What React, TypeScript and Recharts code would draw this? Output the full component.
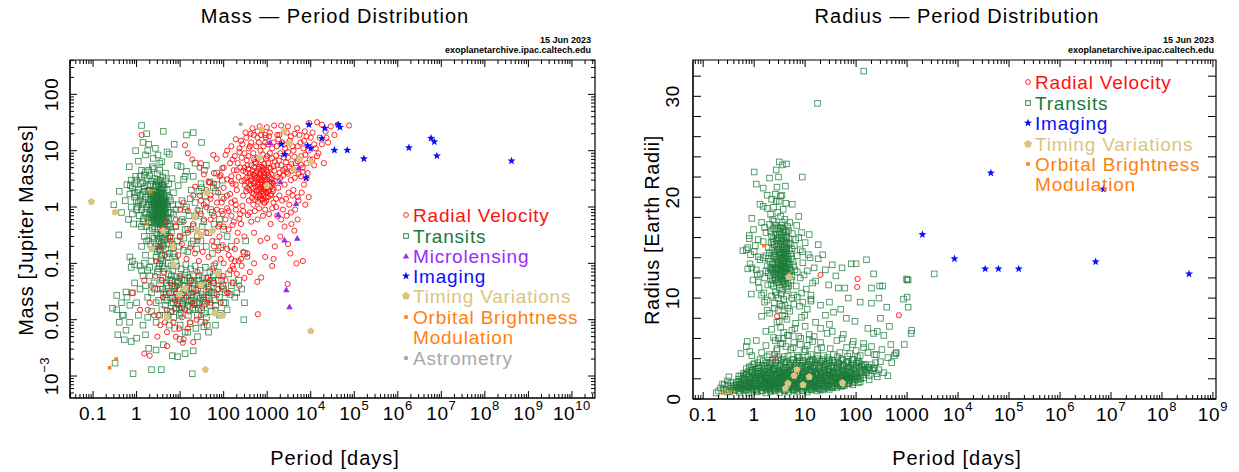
import React from 'react';
import { ScatterChart, Scatter, XAxis, YAxis, ReferenceArea } from 'recharts';

type Pt = [number, number];

// ===================== Mass – Period panel: [period (days), mass (Jupiter masses)] =====================
const massRadialVelocity: Pt[] = [
  [317,21],[460,25],[670,27],[980,26],[1440,28],[2100,28],[3000,27],[4900,25],[9200,31],[14000,32],[18000,29],[29000,27],[42000,29],[76000,28],[7300,22],[22000,22],[1700,19],[900,19],[600,22],[1.3,19],[13,12.5],[15,9],[19,7],[28,5],[35,3.8],
  [250,15],[400,12],[600,17],[900,14],[1300,11],[1800,16],[2500,13],[3500,18],[5000,12],[7000,15],[9000,10],[12000,13],[16000,17],[300,9],[500,7],[700,10],[1000,8],[1500,6.5],[2000,9],[3000,7.5],[4000,10],[6000,8],[8000,6],[11000,7],[15000,9],[20000,6],[350,5.5],[550,6],[800,5],[1200,4.8],[1700,5.5],[2300,4.5],[3200,5.2],[4500,6],[6500,5],[180,8],[140,6],[120,10],[200,4.5],[100,5],[80,3.5],[60,4],[45,2.8],[30,6],[58,8.4],[69,7.2],[110,8.4],[93,4.9],[48,2.7],[85,3.7],[147,2.9],[230,11],[420,20],[750,23],[1100,18],[2800,21],[5500,19],[10000,17],[25000,14],[35000,19],
  [300,3],[350,2.2],[400,3.5],[450,1.8],[500,2.6],[550,4],[600,1.5],[650,3.2],[700,2.1],[750,2.8],[800,1.7],[850,3.7],[900,2.4],[950,1.3],[1000,3],[1100,2],[1200,1.6],[1300,2.7],[1400,1.2],[280,1.6],[320,4.2],[380,1.3],[420,2.9],[480,1.1],[520,3.6],[580,2.0],[620,2.5],[680,1.4],[720,3.9],[780,2.3],[820,1.9],[880,1.2],[940,2.1],[1050,1.5],[1150,3.4],[1250,2.4],[1350,1.9],[1500,2.9],[1600,1.4],[1800,2.2],[2000,3.3],[2200,1.3],[2500,2.5],[2800,4.2],[3100,1.8],[3500,3],[4000,2],[4500,4.5],[5000,1.5],[6000,3.5],[7000,2.5],[8500,4],[200,2],[220,3.4],[180,1.3],[160,2.6],[140,1.7],[120,3.1],[100,2.2],[90,1.2],[75,1.8],[60,2.6],[50,1.4],[40,2],[35,1.1],[28,1.6],[22,2.3],
  [310,2.4],[330,1.9],[360,2.8],[390,2.0],[410,2.5],[440,3.1],[470,2.2],[490,1.7],[510,2.9],[540,2.3],[560,1.9],[590,3.3],[610,2.7],[640,2.0],[660,1.6],[690,2.6],[710,3.0],[740,1.9],[760,2.5],[790,3.4],[810,2.1],[840,1.6],[870,2.8],[890,2.2],[920,3.0],[960,1.8],[980,2.6],[1020,2.2],[1080,1.9],[1120,2.8],[1180,2.3],[1230,1.7],[1280,3.1],[1330,2.1],[1380,2.6],[450,1.45],[530,1.35],[620,1.25],[700,1.55],[770,1.35],[850,1.2],[930,1.5],[400,4.0],[480,3.8],[570,4.3],[660,3.9],[760,4.4],[860,4.0],[950,4.6],[1050,3.7],
  [400,0.8],[600,0.6],[900,0.9],[1200,0.5],[1700,0.7],[2500,0.45],[3500,0.8],[5000,0.6],[250,0.5],[150,0.7],[100,0.45],[70,0.9],[50,0.6],[30,0.75],[20,0.5],[15,0.85],[300,0.3],[500,0.35],[700,0.25],[1000,0.28],[1500,0.2],[2000,0.3],[3000,0.22],[200,0.25],[120,0.18],[80,0.3],[60,0.2],[40,0.35],[25,0.25],[18,0.4],[12,0.55],[10,0.3],[8,0.45],[6,0.25],[1400,0.12],[900,0.13],[500,0.1],[350,0.15],[250,0.12],[160,0.09],[4700,0.1],[6600,0.11],[1300,0.09],[3400,0.15],[590,0.047],[730,0.056],[610,0.0125],[2950,0.043],
  [20,1.6],[25,0.9],[30,1.3],[35,0.6],[40,1.0],[50,1.6],[60,0.7],[70,1.2],[80,0.5],[90,0.85],[100,1.4],[110,0.6],[120,0.95],[130,0.4],[150,1.2],[170,0.55],[190,0.9],[210,0.35],[240,0.75],[270,1.05],[10,0.9],[8,0.6],[12,1.2],[15,0.35],[6,0.3],[5,0.55],[4,0.4],[7,0.18],[9,0.14],[11,0.22],[14,0.12],[17,0.19],[22,0.15],[27,0.11],[33,0.16],[45,0.13],[55,0.25],[65,0.1],[75,0.17],[85,0.12],[95,0.21],[130,0.14],[180,0.18],[220,0.11],[280,0.16],[3.5,0.2],[4.5,0.14],[2.8,0.11],
  [0.8,0.03],[1.2,0.015],[1.5,0.05],[2,0.02],[2.5,0.012],[3,0.035],[3.5,0.008],[4,0.025],[5,0.015],[6,0.045],[7,0.009],[8,0.03],[9,0.018],[10,0.06],[11,0.011],[12,0.04],[14,0.025],[16,0.014],[18,0.05],[20,0.03],[22,0.018],[25,0.07],[28,0.04],[30,0.012],[35,0.025],[40,0.055],[45,0.035],[50,0.02],[55,0.08],[60,0.045],[70,0.028],[80,0.06],[90,0.038],[100,0.1],[110,0.05],[120,0.03],[140,0.075],[160,0.045],[180,0.11],[200,0.065],[230,0.04],[260,0.09],[300,0.055],[350,0.13],[400,0.07],[5,0.006],[8,0.005],[12,0.0045],[15,0.007],[20,0.004],[3,0.005],[2.0,0.0023],[5,0.0034],[11.5,0.0039],[1.5,0.0025],
  [150,12],[190,16],[230,9.5],[270,13],[330,17],[380,11],[430,14],[490,19],[560,12],[640,14],[720,19],[820,12],[930,17],[1050,13],[1150,21],[1400,14],[1650,12],[1900,19],[2200,14],[2600,11],[3300,15],[3800,12],[4300,20],[5800,14],[6800,11],[8000,18],[11000,21],[13000,11],[18000,13],[23000,17],
  [160,7],[210,6],[260,7.5],[300,5],[340,6.8],[370,8],[430,5.5],[480,9],[520,6.3],[600,7.5],[660,5.2],[730,6.8],[790,8.6],[860,5.8],[950,7.2],[1050,6],[1150,9],[1300,7.3],[1400,5.3],[1600,8.2],[1850,6.7],[2100,5.5],[2400,7.6],[2700,6.2],[3000,9.5],[3600,5.8],[4200,7.8],[5000,6.5],[6000,5.6],[7500,8.5],[9500,7],[12000,5.5],[14000,8],
  [150,3.5],[170,4.5],[190,2.5],[240,5],[260,2.9],[280,4.4],[340,3.3],[370,4.7],[460,4.4],[500,5.1],[540,3.3],[630,4.8],[680,3.5],[740,5.2],[830,4.6],[900,3.4],[1000,4.2],[1100,5],[1250,3.8],[1450,4.4],[1700,3.4],[1950,4.1],[2300,3.6],[2600,4.8],[3000,3.9],[3700,4.4],[4300,3.3],[5300,3.9],[6500,4.2],[8000,3.2],
  [1600,1.0],[1900,1.6],[2300,0.9],[2700,1.4],[3200,1.1],[3800,1.6],[4400,0.9],[5200,1.3],[6200,1.8],[7500,1.1],[9000,1.5],[2100,0.6],[2800,0.7],[3600,0.5],[4200,0.38],[1100,0.75],[1300,0.95],[800,0.7],[650,0.95],[520,0.85],[430,0.55],[360,0.72],[280,0.85],[230,0.62],[190,1.1],[160,0.48],[130,0.85],[120,1.6],[95,0.75],[75,0.45],
  [3.8,0.05],[4.5,0.009],[5.5,0.03],[6.5,0.014],[7.5,0.022],[8.5,0.04],[9.5,0.007],[10.5,0.025],[13,0.015],[15,0.04],[17,0.009],[19,0.02],[24,0.01],[26,0.035],[32,0.017],[38,0.009],[42,0.02],[48,0.05],[65,0.015],[75,0.035],[85,0.02],[95,0.06],[130,0.03],[150,0.12],[170,0.08],[2.2,0.04],[2.7,0.06],[1.8,0.015],[3.2,0.012],[4.2,0.07],
];

const massTransits: Pt[] = [
  [1.3,28],[1.7,20],[4.1,22],[14,19],[20,21],[1.4,14],[1.9,13],[31,14],[7.3,13],[1.8,10],[5,9.5],[5.6,8.7],[0.95,10],[0.68,5.2],[8.7,5.5],[10.5,5.2],[14,4.3],[22,6],[40,5.5],[36,4.5],[2.3,5.2],[3.1,8.4],[1.6,8.4],[2.4,7.3],[3.8,6.4],[1.3,4.5],[1.9,4.5],[1.5,3.7],[13,3.5],[20,3.5],[69,4],[48,2.8],[93,3],[31,2.2],[58,2.2],[2.7,11],[3.4,6],[4.6,4],[1.1,6.5],[6.5,3.2],[0.75,3],
  [0.8,2.2],[0.9,1.5],[1.0,3.0],[1.05,1.0],[1.1,2.0],[1.15,0.7],[1.2,1.3],[1.25,2.6],[1.3,0.9],[1.35,1.7],[1.4,0.55],[1.45,1.2],[1.5,2.3],[1.55,0.8],[1.6,1.5],[1.65,0.45],[1.7,1.0],[1.75,3.2],[1.8,0.65],[1.85,1.9],[1.9,1.1],[1.95,0.38],[2.0,0.75],[2.05,1.4],[2.1,2.5],[2.15,0.55],[2.2,1.0],[2.25,1.7],[2.3,0.3],[2.35,0.85],[2.4,1.25],[2.45,0.6],[2.5,2.0],[2.55,1.05],[2.6,0.45],[2.65,1.5],[2.7,0.7],[2.75,1.15],[2.8,0.9],[2.85,2.8],[2.9,0.55],[2.95,1.3],[3.0,0.8],[3.05,1.8],[3.1,0.4],[3.15,1.0],[3.2,0.65],[3.25,1.4],[3.3,0.25],[3.35,0.9],[3.4,2.2],[3.45,0.5],[3.5,1.1],[3.55,0.75],[3.6,1.6],[3.65,0.35],[3.7,1.0],[3.75,0.6],[3.8,1.3],[3.85,0.85],[3.9,0.2],[3.95,2.5],[4.0,0.45],[4.1,1.2],[4.2,0.7],[4.3,0.3],[4.4,1.5],[4.5,0.55],[4.6,0.95],[4.7,0.18],[4.8,0.4],[4.9,1.1],[5.0,0.65],[5.2,0.28],[5.4,0.8],[5.6,0.15],[5.8,0.5],[6.0,1.3],[6.3,0.35],[6.6,0.22],[7.0,0.75],[7.5,0.13],[8.0,0.45],[8.5,0.25],[9.0,1.1],[10,0.3],[11,0.6],[12,0.17],[13,0.9],[15,0.4],[17,1.4],[20,0.25],[23,0.7],[27,1.9],[32,0.45],[40,1.2],[55,0.8],[70,2.5],[90,1.5],
  [2.5,1.6],[2.6,0.95],[2.7,1.9],[2.8,1.4],[2.9,0.75],[3.0,1.2],[3.1,1.6],[3.2,1.05],[3.3,1.8],[3.4,0.7],[3.5,1.45],[3.6,0.55],[3.7,1.25],[3.8,0.95],[3.9,1.7],[4.0,1.05],[4.1,0.8],[4.2,1.35],[4.3,0.6],[4.4,0.9],[2.55,0.7],[2.75,0.5],[3.05,0.6],[3.35,1.3],[3.65,0.85],[3.95,0.65],[4.25,1.0],[2.35,1.1],[2.2,0.65],[2.45,1.9],[3.15,2.4],[3.75,2.1],[2.95,1.05],[3.45,0.95],[3.55,0.42],[3.85,0.48],[3.25,0.52],[2.65,0.58],[4.5,0.75],[4.7,1.25],[4.15,0.38],
  [2.05,0.9],[2.25,1.35],[2.45,0.78],[2.65,1.22],[2.85,0.68],[3.05,1.45],[3.25,0.88],[3.45,1.2],[3.65,1.05],[3.85,1.4],[4.05,0.78],[4.25,1.25],[2.15,1.7],[2.35,0.52],[2.55,1.3],[2.75,0.82],[2.95,1.6],[3.15,0.7],[3.35,1.05],[3.55,1.8],[3.75,0.8],[3.95,1.25],[4.35,0.9],[2.5,1.1],[2.9,1.15],[3.3,1.12],[3.7,1.5],[4.1,1.0],[3.1,0.55],[2.6,0.65],
  [1.2,3.5],[1.4,2.7],[1.6,4.2],[1.8,2.4],[2.0,3.6],[2.2,2.9],[2.4,4.8],[2.6,3.2],[2.8,2.3],[3.0,3.9],[3.2,2.6],[3.4,4.5],[3.6,3.0],[3.8,2.5],[4.0,3.4],[4.3,2.2],[4.6,2.9],[5.0,2.0],[5.5,2.6],[1.3,0.45],[1.5,0.3],[1.7,0.25],[1.9,0.55],[2.1,0.22],[2.3,0.42],[2.5,0.28],[2.7,0.2],[2.9,0.33],[3.1,0.27],[3.3,0.18],[3.5,0.3],[3.7,0.23],[3.9,0.28],[4.1,0.21],[4.4,0.26],[4.7,0.33],[5.1,0.38],[5.5,0.6],[6,0.45],[1.25,1.6],[1.35,1.1],[1.55,1.9],[1.65,0.75],[1.85,1.35],[1.95,2.0],[2.15,1.25],[2.3,0.72],[2.45,1.45],[2.6,1.15],[2.7,2.4],[2.8,0.62],[2.9,1.7],[3.0,0.95],[3.1,1.35],[3.2,2.9],[3.3,0.82],[3.4,1.55],[3.5,0.58],[3.6,2.0],[3.7,0.72],[3.8,1.75],[3.9,1.15],[4.0,2.2],[4.1,0.52],[4.2,1.7],[4.4,1.2],[4.6,0.65],[4.8,1.6],[5.2,1.0],[5.6,1.5],[6.2,0.8],[6.8,1.1],[1.1,1.2],[1.0,0.9],[0.9,2.6],[1.05,1.8],[1.15,0.5],[1.45,0.62],[5.3,0.45],[5.8,0.3],
  [3.2,0.2],[3.5,0.17],[3.8,0.14],[3.0,0.16],[3.6,0.12],[3.4,0.1],[4.0,0.11],[2.8,0.13],[3.9,0.09],[3.1,0.08],
  [0.3,1.1],[0.4,1.9],[0.45,0.8],[0.55,1.3],[0.6,2.5],[0.65,0.6],[0.7,1.7],[0.75,1.0],[0.85,0.5],[0.95,3.5],[0.39,0.32],[0.72,2.4],[0.88,1.8],[0.98,1.3],[0.8,0.75],
  [7,1.8],[8,0.9],[9,2.4],[10,0.55],[11,1.3],[12,3.1],[13,0.4],[14,1.0],[16,0.7],[18,2.0],[20,0.45],[22,1.2],[25,0.3],[28,0.85],[30,2.6],[35,0.55],[38,1.6],[45,0.35],[50,0.9],[60,0.5],[65,1.9],[80,0.6],[100,0.4],[9.5,0.2],[12,0.28],[15,0.16],[18,0.22],[24,0.18],[30,0.25],[40,0.2],[55,0.15],[70,0.24],[85,0.19],[120,0.3],[150,0.2],[300,0.15],[320,0.25],
  [1.3,0.2],[1.6,0.14],[1.9,0.25],[2.2,0.11],[2.6,0.18],[5,0.13],[5.5,0.22],[6.2,0.09],[7,0.15],[8,0.11],[1.2,0.09],[1.5,0.1],[2.0,0.085],[0.7,0.13],[0.8,0.11],[0.9,0.095],[0.75,0.085],[1.3,0.075],[1.8,0.075],
  [2,0.06],[2.5,0.045],[3,0.07],[3.5,0.035],[4,0.055],[4.5,0.025],[5,0.04],[5.5,0.065],[6,0.03],[6.5,0.05],[7,0.02],[7.5,0.038],[8,0.058],[8.5,0.028],[9,0.045],[9.5,0.016],[10,0.033],[11,0.052],[12,0.024],[13,0.04],[14,0.07],[15,0.018],[16,0.03],[17,0.048],[18,0.022],[19,0.035],[20,0.06],[22,0.015],[24,0.027],[26,0.042],[28,0.02],[30,0.032],[33,0.055],[36,0.013],[40,0.025],[44,0.038],[48,0.018],[52,0.03],[58,0.045],[64,0.022],[70,0.035],[3.2,0.022],[3.8,0.015],[4.2,0.03],[5.2,0.012],[6.2,0.02],[7.2,0.011],[8.2,0.016],[9.2,0.025],[10.5,0.013],[11.5,0.019],[2.2,0.03],[2.8,0.02],[1.6,0.04],[1.8,0.025],[1.4,0.06],[1.2,0.035],[1.0,0.02],[0.9,0.045],[0.8,0.03],[0.7,0.018],[0.6,0.025],[0.5,0.012],[0.45,0.02],[0.4,0.009],[0.35,0.015],
  [3.3,0.09],[4.3,0.08],[5.3,0.1],[6.8,0.075],[8.3,0.09],[10.5,0.08],[13.5,0.095],[17.5,0.08],[22,0.09],[29,0.075],[38,0.085],[48,0.07],[2.6,0.035],[3.6,0.05],[4.8,0.045],[6.3,0.06],[7.8,0.04],[9.8,0.055],[12.5,0.05],[16,0.055],[21,0.045],[27,0.05],[35,0.045],[45,0.055],[58,0.06],[75,0.05],[95,0.04],[3.4,0.012],[4.6,0.018],[6,0.014],[7.6,0.025],[9.6,0.012],[12.5,0.016],[15.5,0.012],[19.5,0.016],[25,0.012],[31,0.015],[40,0.011],[52,0.014],[66,0.018],[85,0.013],[110,0.02],[140,0.028],[170,0.045],[200,0.03],[5.6,0.008],[7.5,0.007],[10,0.008],[13,0.006],[17,0.0085],[23,0.007],[30,0.009],[42,0.008],[2.8,0.009],[2.2,0.014],[1.8,0.011],[1.4,0.008],[1.1,0.012],
  [5.8,0.05],[7.2,0.035],[8.8,0.048],[10.8,0.028],[12.8,0.062],[15.8,0.036],[18.8,0.05],[23,0.033],[27,0.06],[33,0.028],[39,0.044],[47,0.032],[55,0.05],[4.8,0.028],[6.7,0.024],[8.7,0.019],[11.8,0.03],[14.5,0.022],[18.5,0.028],[24,0.02],[29,0.024],[36,0.019],[44,0.027],[6.5,0.04],[10,0.022],[13.8,0.033],[20,0.025],[32,0.042],[5,0.022],[4,0.035],[7.8,0.016],[11,0.017],[16.5,0.021],[21,0.019],[26,0.016],[34,0.022],[46,0.024],[60,0.03],[80,0.025],[100,0.035],
  [0.28,0.016],[0.35,0.027],[0.57,0.031],[0.47,0.012],[0.69,0.009],[0.57,0.0065],[0.37,0.0054],[0.52,0.0044],[0.75,0.0041],[1.0,0.0047],[1.6,0.0054],[1.9,0.0031],[2.8,0.0029],[4.1,0.0036],[6.6,0.0023],[8.7,0.0022],[13,0.0025],[20,0.0028],[0.83,0.0011],[2.2,0.0013],[3.7,0.0013],[19,0.0011],[0.32,0.0017],
  [60,0.09],[75,0.07],[90,0.05],[110,0.03],[130,0.065],[150,0.04],[180,0.025],[220,0.05],[260,0.035],[300,0.02],[290,0.01],[80,0.012],[100,0.02],[120,0.015],[65,0.008],[45,0.006],[35,0.0075],[25,0.005],[15,0.006],[10,0.0045],
];

const massMicrolensing: Pt[] = [[1170,14],[2000,2.8],[1800,0.74],[4600,1.15],[5400,5.0],[2500,0.26],[4900,0.28],[2750,0.034],[3250,0.017]];

const massImaging: Pt[] = [
  [9100,29],[21000,25],[42700,29],[47000,26],[18000,16.5],[8500,12.3],[10000,11],[35000,10.2],[69000,10.2],[2100,13],[2500,8.6],[7800,3.3],[166000,7.2],[1.8e6,11.3],[5.8e6,16.6],[6.9e6,14.4],[7.9e6,8.1],[4.1e8,6.6],
];

const massTimingVariations: Pt[] = [
  [0.091,1.24],[0.32,0.81],[4.1,0.38],[22,0.66],[24.5,0.38],[30,0.32],[56,0.38],[6.9,0.2],[2.2,0.18],[7.2,0.093],[74,0.066],[30,0.041],[13,0.036],[9.6,0.028],[5.0,0.011],[63,0.013],[95,0.012],[38,0.0013],[10000,0.0063],[2450,22],[680,7.6],[980,2.4],[5600,7.1],[4100,4.6],[41,1.8],[740,24],[3300,13.5],[10000,6.2],
];

const massOrbitalBrightness: Pt[] = [[0.24,0.0014],[0.34,0.002],[1.7,0.5],[2.1,1.9]];

const massAstrometry: Pt[] = [[245,29.5]];

// ===================== Radius – Period panel: [period (days), radius (Earth radii)] =====================
const radiusTransits: Pt[] = [
  [141,32.5],[17.5,29.3],[3400,12.4],[1000,11.8],[1050,11.8],[980,11.9],[1050,9.1],[850,9.9],[1000,10.1],[1230,6.8],[1200,6.5],[880,5.4],[600,4.5],
  [3.1,23.5],[3.6,23.2],[4.3,23.3],[2.7,22.7],[1.0,22.5],[2.0,21.9],[8.8,22],[1.1,21.3],[1.5,20.9],[4.1,21.1],[1.8,20.2],[3.3,20.1],[2.7,19.6],[1.3,19.3],[5.6,19.3],[7.5,18.1],[0.97,16.8],[0.8,15.9],[0.75,15],[0.85,14.3],[0.83,13.4],[1.15,12.3],[0.88,10.4],[1.4,10.3],[1.6,9.6],[1.8,8.8],[3.1,7.7],[1.7,6.7],[0.73,5.7],[0.82,4.7],
  [8.8,14.6],[11.5,14.3],[18,13.9],[22,14.3],[34,13.3],[53,13],[80,13.4],[100,13.4],[220,12.4],[290,11.2],[200,11],[120,9.6],[200,9.5],[280,10],[400,9.1],[45,11],[29,11.3],[16,11.7],[13,10.3],[20,9.3],[36,8.6],[64,8],[95,7.7],[170,7],[260,6.7],[350,6.3],[610,4.6],[480,5.4],[9.8,8.3],[6.3,7],[34,6.7],[53,6],[85,5.4],[140,5.1],[230,4.4],[14,5.7],[21,5.1],[3.7,6],[2.8,5],[2.5,4.4],[330,11.2],
  [2.0,14.5],[2.1,12.2],[2.2,16.1],[2.3,13.4],[2.4,11.2],[2.5,15.3],[2.6,13.0],[2.7,17.2],[2.8,12.5],[2.9,14.8],[3.0,11.6],[3.1,16.3],[3.2,13.7],[3.3,12.1],[3.4,15.6],[3.5,13.2],[3.6,10.8],[3.7,14.3],[3.8,12.7],[3.9,16.8],[4.0,13.5],[4.1,11.4],[4.2,15.0],[4.3,12.9],[4.4,14.1],[4.5,10.9],[4.7,13.8],[4.9,12.3],[5.1,15.4],[5.3,11.8],[2.05,13.6],[2.15,15.5],[2.25,11.8],[2.35,14.2],[2.45,17.6],[2.55,12.9],[2.65,14.6],[2.75,11.5],[2.85,16.0],[2.95,13.3],[3.05,14.9],[3.15,12.4],[3.25,17.0],[3.35,13.9],[3.45,11.9],[3.55,15.1],[3.65,12.6],[3.75,16.5],[3.85,14.0],[3.95,12.0],[4.05,15.7],[4.15,13.1],[4.25,11.1],[4.35,14.7],[4.6,12.5],[4.8,15.9],[5.0,13.0],[5.2,14.4],[5.5,12.1],[5.8,13.6],[1.5,14.0],[1.6,12.0],[1.7,16.5],[1.8,13.2],[1.9,15.0],[1.4,17.5],[1.3,13.8],[1.2,15.8],[1.1,12.8],[1.0,14.6],[0.9,13.0],[0.8,16.2],[0.7,14.8],[1.25,11.0],[1.55,10.5],[1.85,11.3],[2.2,10.2],[2.6,10.6],[3.0,10.0],[3.4,10.4],[3.8,9.9],[4.3,10.2],[2.9,18.5],[3.3,18.1],[2.4,19.0],[3.7,18.8],[2.6,20.3],[3.1,19.6],[2.1,18.3],[1.8,18.9],[4.0,17.8],[4.5,17.1],[2.35,16.9],[3.55,17.5],[6.3,12.8],[7.0,14.2],[8.0,12.0],[9.0,13.5],[6.7,11.2],[5.6,16.4],[6.1,15.2],[7.5,16.0],[10,15.5],[11,12.7],[12.5,14.0],[14,11.5],[15,13.0],[8.5,10.5],[10.5,10.9],[13,9.9],[6,10.3],[7.8,9.2],
  [2.1,16.6],[2.3,17.8],[2.5,12.0],[2.7,14.0],[2.9,16.9],[3.1,11.0],[3.3,14.4],[3.5,16.2],[3.7,11.7],[3.9,13.0],[4.1,16.1],[4.3,14.9],[4.6,11.5],[4.9,14.7],[2.2,13.0],[2.4,15.9],[2.6,11.8],[2.8,13.8],[3.0,15.4],[3.2,12.8],[3.4,17.2],[3.6,13.7],[3.8,15.3],[4.0,12.2],[4.2,16.6],[4.5,13.3],[4.8,11.2],[5.2,12.7],[2.35,12.6],[2.55,14.1],[2.75,15.7],[2.95,12.2],[3.15,14.2],[3.35,16.0],[3.55,12.3],[3.75,13.4],[3.95,15.0],[4.15,12.6],[4.4,15.5],[4.7,16.7],[1.9,12.5],[1.7,14.2],[1.5,15.6],[1.3,12.4],[1.6,17.0],[1.2,14.1],[2.0,17.3],[5.5,14.9],[6.0,13.2],[6.5,15.8],[5.0,17.5],[7.0,12.6],[8.0,14.8],[9.5,12.3],[2.2,19.8],[2.8,21.0],[3.5,20.2],[3.0,22.0],[4.2,19.4],[2.5,9.0],[3.2,9.4],[4.0,9.3],[2.0,8.5],[3.6,8.3],[4.6,9.0],[5.5,10.0],[2.7,10.3],[1.8,9.8],[1.4,8.2],[1.2,11.6],[0.95,11.8],[0.75,12.9],[0.6,14.7],[1.05,15.2],[0.9,17.9],[1.5,19.1],[6.8,17.2],[8.5,16.5],[12,16.3],[18,15.3],[25,12.8],[40,12.2],[60,11.0],[30,9.6],[50,8.9],[70,10.0],[160,13.8],[300,8.0],[450,7.2],[220,6.5],
  [2.05,12.9],[2.25,14.8],[2.45,13.3],[2.65,16.3],[2.85,13.5],[3.05,12.8],[3.25,15.3],[3.45,14.5],[3.65,16.9],[3.85,11.8],[4.05,13.9],[4.25,15.4],[4.45,12.9],[2.15,11.4],[2.35,15.6],[2.55,16.8],[2.75,13.0],[2.95,15.9],[3.15,11.3],[3.35,12.6],[3.55,14.0],[3.75,15.8],[3.95,13.7],[4.15,14.4],[4.35,16.0],[2.6,12.3],[2.8,15.1],[3.0,13.6],[3.2,16.6],[3.4,12.9],[3.6,14.8],[3.8,13.1],[4.0,14.6],[4.2,12.0],[2.5,14.4],[2.3,12.8],[2.7,12.7],[2.9,11.9],[3.1,14.6],[3.3,13.3],[3.5,11.6],[3.7,13.0],[3.9,14.5],[4.1,12.9],[4.3,13.6],[4.6,14.2],[4.9,13.4],[5.3,13.9],[1.9,13.9],[1.7,12.7],
  [2.5,9.5],[3,8.8],[3.5,9.2],[4,8.2],[2.8,7.6],[3.3,7.1],[3.8,6.6],[4.4,7.9],[2.2,6.9],[4.8,6.3],[3,6.0],[3.6,5.5],[2.6,5.8],[4.2,5.2],[5.5,6.8],[6.5,7.5],[7.5,6.2],[8.5,8.1],[10,7.2],[12,6.4],[5,8.7],[6,9.4],[7,10.1],[9,9.6],[11,8.9],[13,9.7],[16,7.6],[20,7.0],[25,8.3],[30,7.4],[5.8,5.1],[8,5.4],[10,4.9],[12,5.9],
  [0.2,0.8],[0.25,1.0],[0.3,0.7],[0.35,1.1],[0.4,0.9],[0.45,1.2],[0.5,0.8],[0.55,1.0],[0.6,1.3],[0.7,0.9],[0.8,1.1],[0.9,0.75],[1.0,1.2],[1.1,0.95],[1.25,1.3],[1.4,0.85],[1.6,1.1],[1.8,0.9],[2.0,1.25],[2.3,1.0],[2.6,0.8],[3.0,1.15],[3.4,0.95],[4.0,1.3],[4.6,0.9],[5.3,1.1],[6.2,0.85],[7.2,1.2],[8.5,1.0],[10,1.3],[12,0.9],[15,1.2],[19,1.05],[25,1.3],[35,1.1],
  [0.3,1.4],[0.35,1.6],[0.4,1.3],[0.45,1.5],[0.5,1.7],[0.55,1.4],[0.6,1.6],[0.65,1.9],[0.7,1.5],[0.75,1.3],[0.8,1.7],[0.85,1.5],[0.9,2.0],[0.95,1.4],[1.0,1.6],[1.1,1.8],[1.2,1.4],[1.3,1.65],[1.4,1.95],[1.5,1.5],[1.6,1.75],[1.7,1.35],[1.8,1.6],[1.9,1.9],[2.0,1.5],[2.2,1.8],[2.4,1.4],[2.6,1.7],[2.8,2.0],[3.0,1.55],[3.2,1.85],[3.4,1.45],[3.7,1.7],[4.0,1.95],[4.3,1.5],[4.6,1.75],[5.0,1.4],[5.4,1.65],[5.8,1.9],[6.3,1.5],[6.8,1.8],[7.3,1.35],[8.0,1.6],[8.7,1.95],[9.5,1.45],[10.5,1.75],[11.5,1.55],[12.5,1.9],[14,1.4],[15.5,1.7],[17,1.95],[19,1.5],[21,1.8],[23,1.6],[26,1.9],[29,1.45],[32,1.75],[36,1.55],[40,1.85],[45,1.6],[50,1.9],[57,1.7],[65,1.95],[75,1.8],
  [0.5,2.3],[0.6,2.1],[0.7,2.5],[0.8,2.2],[0.9,2.7],[1.0,2.3],[1.1,2.1],[1.2,2.6],[1.35,2.2],[1.5,2.8],[1.65,2.35],[1.8,2.1],[2.0,2.6],[2.2,2.3],[2.4,2.9],[2.6,2.15],[2.9,2.5],[3.1,2.75],[3.4,2.2],[3.7,2.55],[4.0,2.35],[4.4,2.85],[4.8,2.1],[5.2,2.45],[5.7,2.7],[6.2,2.25],[6.8,2.6],[7.4,2.95],[8.0,2.3],[8.8,2.55],[9.6,2.15],[10.5,2.8],[11.5,2.4],[12.6,2.65],[13.8,2.2],[15,2.9],[16.5,2.45],[18,2.7],[19.8,2.25],[21.7,2.6],[23.8,2.9],[26,2.35],[28.5,2.65],[31,2.2],[34,2.5],[37,2.8],[41,2.3],[45,2.6],[50,2.4],[55,2.75],[61,2.5],[67,2.2],[74,2.65],[82,2.4],[90,2.85],[100,2.5],[115,2.3],[130,2.7],
  [0.8,3.2],[1.0,3.5],[1.2,3.1],[1.5,3.8],[1.8,3.3],[2.1,3.6],[2.5,3.1],[2.9,3.9],[3.3,3.4],[3.8,3.15],[4.3,3.7],[4.9,3.3],[5.5,3.9],[6.1,3.2],[6.8,3.55],[7.6,4.1],[8.5,3.3],[9.4,3.7],[10.4,3.1],[11.5,3.45],[12.8,3.85],[14.2,3.25],[15.8,3.6],[17.5,4.0],[19.4,3.35],[21.5,3.7],[24,3.1],[27,3.5],[30,3.9],[33,3.25],[37,3.6],[41,3.15],[46,3.45],[51,3.85],[57,3.3],[64,3.6],[72,3.2],[80,3.5],[90,3.9],[100,3.3],[115,3.6],[130,3.2],[150,3.45],[175,3.15],[200,3.4],[230,3.1],
  [1.05,1.25],[1.15,2.45],[1.45,1.2],[1.55,2.05],[1.75,2.75],[1.95,1.25],[2.1,2.05],[2.3,1.15],[2.5,2.45],[2.7,1.25],[3.1,2.05],[3.3,1.2],[3.6,2.4],[3.9,1.25],[4.2,2.1],[4.5,2.6],[4.8,1.2],[5.1,2.05],[5.6,2.35],[6.0,1.25],[6.5,2.05],[7.0,2.4],[7.7,1.25],[8.3,2.05],[9.1,2.4],[9.9,1.25],[10.9,2.05],[12,2.35],[13.2,1.25],[14.6,2.05],[16,2.35],[17.6,1.25],[19.3,2.05],[22.5,2.1],[24.8,1.25],[27.2,2.05],[30,2.45],[33,1.25],[35.5,2.05],[39,2.15],[43,1.35],[47,2.05],[53,2.15],[59,1.35],[63,2.3],[70,2.05],[78,2.15],[86,1.4],[95,2.2],[105,1.9],[120,1.7],[140,2.1],[160,2.6],[180,2.3],[210,2.8],[250,2.5],
  [0.33,0.7],[0.42,0.85],[0.52,0.65],[0.66,0.8],[0.78,0.6],[0.95,0.9],[1.15,0.7],[1.45,0.8],[1.7,0.6],[2.1,0.75],[2.5,0.9],[3.2,0.65],[3.9,0.8],[4.7,0.7],[5.9,0.9],[7.1,0.75],[8.9,0.85],[11,0.7],[13.5,0.95],[17,0.8],[22,0.9],
  [0.38,1.05],[0.47,1.15],[0.58,1.0],[0.72,1.1],[0.88,1.2],[1.08,1.0],[1.32,1.1],[1.62,1.2],[1.98,1.05],[2.45,1.15],[2.95,1.0],[3.6,1.2],[4.45,1.05],[5.4,1.15],[6.6,1.0],[8.1,1.2],[9.9,1.1],[12.2,1.05],[14.9,1.15],[18.2,1.0],[22.5,1.2],[27.5,1.1],[33,1.2],[42,1.15],[52,1.25],
  [0.42,1.35],[0.52,1.45],[0.64,1.3],[0.79,1.4],[0.97,1.5],[1.19,1.35],[1.45,1.45],[1.78,1.3],[2.18,1.4],[2.68,1.5],[3.28,1.35],[4.02,1.45],[4.93,1.3],[6.05,1.4],[7.4,1.5],[9.1,1.35],[11.1,1.45],[13.6,1.3],[16.7,1.4],[20.5,1.5],[25.1,1.35],[30.8,1.45],[37.7,1.3],[46,1.45],[56,1.35],[68,1.5],[84,1.6],
  [0.45,1.65],[0.56,1.75],[0.69,1.6],[0.84,1.7],[1.03,1.8],[1.27,1.65],[1.55,1.75],[1.9,1.6],[2.33,1.7],[2.86,1.8],[3.5,1.65],[4.3,1.75],[5.27,1.6],[6.46,1.7],[7.9,1.8],[9.7,1.65],[11.9,1.75],[14.6,1.6],[17.9,1.7],[21.9,1.8],[26.9,1.65],[33,1.75],[40.4,1.6],[49.5,1.7],[60.7,1.8],[74,1.65],[91,1.75],[110,1.6],
  [0.5,1.95],[0.61,2.05],[0.75,1.9],[0.92,2.0],[1.13,2.1],[1.38,1.95],[1.7,2.05],[2.08,1.9],[2.55,2.0],[3.12,2.1],[3.83,1.95],[4.69,2.05],[5.75,1.9],[7.05,2.0],[8.64,2.1],[10.6,1.95],[13,2.05],[15.9,1.9],[19.5,2.0],[23.9,2.1],[29.3,1.95],[35.9,2.05],[44,1.9],[54,2.0],[66,2.1],[81,1.95],[99,2.05],[122,2.0],
  [0.55,2.25],[0.67,2.35],[0.82,2.2],[1.0,2.4],[1.23,2.25],[1.51,2.35],[1.85,2.2],[2.27,2.3],[2.78,2.4],[3.41,2.25],[4.18,2.35],[5.12,2.2],[6.28,2.3],[7.7,2.4],[9.44,2.25],[11.6,2.35],[14.2,2.2],[17.4,2.3],[21.3,2.4],[26.1,2.25],[32,2.35],[39.2,2.2],[48,2.3],[59,2.4],[72,2.25],[88,2.35],[108,2.2],[135,2.4],
  [0.62,2.55],[0.76,2.7],[0.93,2.6],[1.14,2.75],[1.4,2.55],[1.72,2.7],[2.11,2.6],[2.59,2.75],[3.17,2.55],[3.89,2.7],[4.77,2.6],[5.85,2.75],[7.17,2.55],[8.79,2.7],[10.8,2.6],[13.2,2.75],[16.2,2.55],[19.9,2.7],[24.4,2.6],[29.9,2.75],[36.6,2.55],[44.9,2.7],[55,2.6],[67,2.75],[82,2.55],[101,2.7],[124,2.6],[152,2.75],
  [0.7,3.0],[0.86,3.15],[1.05,2.95],[1.29,3.1],[1.58,3.0],[1.94,3.15],[2.38,2.95],[2.92,3.1],[3.58,3.0],[4.39,3.15],[5.38,2.95],[6.6,3.1],[8.09,3.0],[9.92,3.15],[12.2,2.95],[14.9,3.1],[18.3,3.0],[22.4,3.15],[27.5,2.95],[33.7,3.1],[41.3,3.0],[50.6,3.15],[62,2.95],[76,3.1],[93,3.0],[114,3.15],[140,2.95],[172,3.1],
  [0.95,3.4],[1.17,3.6],[1.43,3.35],[1.75,3.55],[2.15,3.4],[2.63,3.6],[3.23,3.35],[3.96,3.55],[4.85,3.4],[5.95,3.6],[7.29,3.35],[8.94,3.55],[11,3.4],[13.4,3.6],[16.5,3.35],[20.2,3.55],[24.8,3.4],[30.4,3.6],[37.2,3.35],[45.6,3.55],[56,3.4],[68.6,3.6],[84,3.35],[103,3.55],[126,3.4],
  [1.3,3.9],[1.8,4.2],[2.3,3.85],[3.0,4.1],[3.7,3.95],[4.6,4.25],[5.8,3.9],[7.3,4.15],[9.0,3.85],[11.3,4.2],[14,3.95],[17.5,4.25],[22,3.9],[27.5,4.1],[34,3.85],[43,4.2],[54,3.95],[68,4.25],[85,3.9],[106,4.1],
  [0.65,1.2],[0.85,1.55],[1.1,1.4],[1.35,1.85],[1.65,1.45],[2.0,1.75],[2.4,1.6],[2.9,1.3],[3.5,1.85],[4.2,1.6],[5.1,1.3],[6.1,1.85],[7.4,1.55],[8.9,1.3],[10.8,1.85],[13,1.5],[15.7,1.3],[19,1.85],[23,1.55],[27.8,1.3],[33.6,1.85],[40.6,1.5],[49,1.3],[59,1.85],[71,1.55],
  [0.72,2.4],[0.88,2.85],[1.07,2.55],[1.3,2.2],[1.58,2.6],[1.92,2.45],[2.33,2.8],[2.83,2.35],[3.44,2.65],[4.18,2.5],[5.08,2.85],[6.17,2.4],[7.5,2.65],[9.1,2.5],[11.1,2.85],[13.5,2.4],[16.4,2.65],[19.9,2.5],[24.2,2.85],[29.4,2.4],[35.7,2.65],[43.4,2.5],[52.7,2.85],[64,2.4],[77.8,2.65],[94.5,2.5],
  [0.5,1.1],[0.62,0.95],[0.76,1.25],[0.93,1.05],[1.14,0.85],[1.4,1.15],[1.72,1.0],[2.1,0.85],[2.58,1.2],[3.16,1.05],[3.88,0.85],[4.76,1.15],[5.84,0.95],[7.16,1.1],[8.78,0.85],[10.8,1.15],[13.2,0.95],[16.2,1.1],[19.9,0.9],[24.4,1.05],[29.9,0.95],
  [1.2,3.3],[1.6,3.05],[2.0,3.55],[2.6,3.25],[3.4,3.8],[4.1,3.05],[5.2,3.55],[6.5,3.35],[8.0,3.8],[10,3.3],[12.4,3.75],[15.4,3.3],[19,3.8],[23.5,3.3],[29,3.75],[36,3.05],[44,3.8],[55,3.3],[70,3.75],[88,3.1],[110,3.75],[140,3.35],[185,2.95],[240,3.6],[280,2.9],
  [0.55,4.5],[0.7,5.2],[0.9,4.3],[1.1,5.8],[1.4,4.6],[1.7,5.3],[2.0,4.4],[2.4,6.1],[2.8,4.8],[3.3,5.5],[3.9,4.2],[4.5,6.3],[5.2,4.9],[6,5.6],[7,4.3],[8.2,6.0],[9.5,4.7],[11,5.3],[13,4.4],[15,6.2],[17.5,4.9],[20,5.6],[23,4.3],[27,6.5],[31,5.0],[36,4.4],[42,5.8],[48,4.6],[56,6.4],[65,5.1],[75,4.5],[88,5.7],[100,4.8],[120,4.3],[140,5.5],[170,4.6],[200,5.2],[250,4.4],[320,4.9],[420,4.1],
  [150,2.9],[180,1.9],[220,3.0],[260,2.2],[300,3.7],[350,2.6],[420,2.3],[500,3.6],[560,4.3],
  [0.18,0.6],[0.22,1.1],[0.26,1.4],[0.32,2.2],[0.28,0.9],[0.24,1.5],[0.3,1.8],
];

const radiusRadialVelocity: Pt[] = [[20,12.3],[107,11.9],[105,11.1],[690,8.3],[2.8,8.2],[2.6,4.1]];

const radiusImaging: Pt[] = [[2000,16.3],[8500,13.9],[34000,12.9],[62000,12.9],[155000,12.9],[5.0e6,13.6],[3.4e8,12.4],[44000,22.4],[7.1e6,20.8]];

const radiusTimingVariations: Pt[] = [[4.8,12.1],[6.9,2.9],[6.1,2.3],[12,2.2],[4.6,1.55],[4.1,1.05],[9.1,1.4],[54,1.6]];

const radiusOrbitalBrightness: Pt[] = [[0.24,0.6],[0.34,0.7],[1.55,15.2]];

// ===================== axis ticks / labels =====================
const massPeriodDecades = [0.1, 1, 10, 100, 1000, 1e4, 1e5, 1e6, 1e7, 1e8, 1e9, 1e10];
const massPeriodLabels = ['0.1', '1', '10', '100', '1000', '10^4', '10^5', '10^6', '10^7', '10^8', '10^9', '10^10'];
const massDecades = [0.001, 0.01, 0.1, 1, 10, 100];
const massLabels = ['10^\u22123', '0.01', '0.1', '1', '10', '100'];
const radiusPeriodDecades = [0.1, 1, 10, 100, 1000, 1e4, 1e5, 1e6, 1e7, 1e8, 1e9];
const radiusPeriodLabels = ['0.1', '1', '10', '100', '1000', '10^4', '10^5', '10^6', '10^7', '10^8', '10^9'];
const radiusValues = [0, 10, 20, 30];
const radiusLabels = ['0', '10', '20', '30'];

const massLegend = ['Radial Velocity', 'Transits', 'Microlensing', 'Imaging', 'Timing Variations', 'Orbital Brightness', 'Astrometry'];
const radiusLegend = ['Radial Velocity', 'Transits', 'Imaging', 'Timing Variations', 'Orbital Brightness'];

// ===================== styling =====================
const FONT = '"Liberation Sans", Arial, sans-serif';
const C = {
  rv: '#ff1010',
  tr: '#1b7a3a',
  ml: '#9a2cf0',
  im: '#0a10ff',
  tv: '#dcc47e',
  ob: '#ff7f10',
  as: '#a8a8a8',
};

const W = 1239;
const H = 472;

const L = { w: 620, margin: { top: 60, right: 25, bottom: 0, left: 0 }, yW: 70, xH: 74 };
const R = { w: 619, margin: { top: 60, right: 23, bottom: 0, left: 0 }, yW: 73, xH: 73 };
const L_PW = L.w - L.margin.right - L.yW;
const L_PH = H - L.margin.top - L.xH;
const R_PW = R.w - R.margin.right - R.yW;
const R_PH = H - R.margin.top - R.xH;

const massXDomain: [number, number] = [-1.53, 10.53];
const massYDomain: [number, number] = [-3.39, 2.61];
const radXDomain: [number, number] = [-1.2, 9.06];
const radYDomain: [number, number] = [0, 33.6];

const logTicks = (lo: number, hi: number) => {
  const out: number[] = [];
  for (let d = Math.floor(lo); d <= Math.ceil(hi); d++) {
    for (let k = 1; k <= 9; k++) {
      const v = d + Math.log10(k);
      if (v >= lo - 1e-9 && v <= hi + 1e-9) out.push(+v.toFixed(6));
    }
  }
  return out;
};

const logPts = (pts: Pt[]) => pts.map(([p, v]) => ({ x: Math.log10(p), y: Math.log10(v) }));
const semiLogPts = (pts: Pt[]) => pts.map(([p, v]) => ({ x: Math.log10(p), y: v }));

const decadeLabel = (decades: number[], labels: string[]) => (v: number) => {
  const i = decades.findIndex((d) => Math.abs(Math.log10(d) - v) < 1e-5);
  return i >= 0 ? labels[i] : undefined;
};
const linearLabel = (values: number[], labels: string[]) => (v: number) => {
  const i = values.findIndex((d) => Math.abs(d - v) < 1e-9);
  return i >= 0 ? labels[i] : undefined;
};

// ===================== markers =====================
const polyPts = (cx: number, cy: number, r: number, n: number, rot = -Math.PI / 2, inner?: number) => {
  const pts: string[] = [];
  const total = inner ? n * 2 : n;
  for (let i = 0; i < total; i++) {
    const rr = inner && i % 2 === 1 ? inner : r;
    const a = rot + (i * 2 * Math.PI) / total;
    pts.push(`${(cx + rr * Math.cos(a)).toFixed(2)},${(cy + rr * Math.sin(a)).toFixed(2)}`);
  }
  return pts.join(' ');
};

const circleShape = (c: string, r = 2.6) => (p: any) => (
  <circle cx={p.cx} cy={p.cy} r={r} fill="none" stroke={c} strokeWidth={0.9} />
);
const squareShape = (c: string, s = 5.6, op = 0.8) => (p: any) => (
  <rect x={p.cx - s / 2} y={p.cy - s / 2} width={s} height={s} fill="none" stroke={c} strokeWidth={0.9} strokeOpacity={op} />
);
const triangleShape = (c: string, r = 3.8) => (p: any) => <polygon points={polyPts(p.cx, p.cy + 0.6, r, 3)} fill={c} />;
const starShape = (c: string, r = 4.2) => (p: any) => <polygon points={polyPts(p.cx, p.cy, r, 5, -Math.PI / 2, r * 0.42)} fill={c} />;
const pentagonShape = (c: string, r = 3.8) => (p: any) => <polygon points={polyPts(p.cx, p.cy, r, 5)} fill={c} />;
const smallSquareShape = (c: string, s = 3.6) => (p: any) => (
  <rect x={p.cx - s / 2} y={p.cy - s / 2} width={s} height={s} fill={c} />
);
const dotShape = (c: string, r = 2) => (p: any) => <circle cx={p.cx} cy={p.cy} r={r} fill={c} />;

// ===================== tick renderers =====================
const TickLabel = ({ x, y, label, rotate }: { x: number; y: number; label: string; rotate?: boolean }) => {
  const [base, exp] = label.split('^');
  return (
    <text
      x={x}
      y={y}
      textAnchor="middle"
      dominantBaseline="central"
      fontFamily={FONT}
      fontSize={19}
      letterSpacing={0.6}
      fill="#000"
      transform={rotate ? `rotate(-90 ${x} ${y})` : undefined}
    >
      {base}
      {exp !== undefined && (
        <tspan fontSize={13} dy={-8}>
          {exp}
        </tspan>
      )}
    </text>
  );
};

const xTick = (plotH: number, labelFor: (v: number) => string | undefined, majorLen: number, minorLen: number) => (props: any) => {
  const { x, y, payload } = props;
  const label = labelFor(payload.value);
  const len = label !== undefined ? majorLen : minorLen;
  return (
    <g>
      <line x1={x} x2={x} y1={y} y2={y - len} stroke="#000" strokeWidth={1} />
      <line x1={x} x2={x} y1={y - plotH} y2={y - plotH + len} stroke="#000" strokeWidth={1} />
      {label !== undefined && <TickLabel x={x} y={y + 15} label={label} />}
    </g>
  );
};

const yTick = (plotW: number, labelFor: (v: number) => string | undefined, majorLen: number, minorLen: number, labelDx: number) => (props: any) => {
  const { x, y, payload } = props;
  const label = labelFor(payload.value);
  const len = label !== undefined ? majorLen : minorLen;
  return (
    <g>
      <line x1={x} x2={x + len} y1={y} y2={y} stroke="#000" strokeWidth={1} />
      <line x1={x + plotW} x2={x + plotW - len} y1={y} y2={y} stroke="#000" strokeWidth={1} />
      {label !== undefined && <TickLabel x={x - labelDx} y={y} label={label} rotate />}
    </g>
  );
};

// ===================== legend =====================
const LegendRow = ({ x, y, shape, text, color }: any) => (
  <g>
    {shape({ cx: x, cy: y })}
    <text x={x + 7} y={y} dominantBaseline="central" fontFamily={FONT} fontSize={19} letterSpacing={0.8} fill={color}>
      {text}
    </text>
  </g>
);

export default function App() {
  const massX = logTicks(massXDomain[0], massXDomain[1]);
  const massY = logTicks(massYDomain[0], massYDomain[1]);
  const radX = logTicks(radXDomain[0], radXDomain[1]);
  const radY = Array.from({ length: 17 }, (_, i) => i * 2);

  const lgMarkers = {
    rv: circleShape(C.rv, 2.4),
    tr: squareShape(C.tr, 4.6, 1),
    ml: triangleShape(C.ml, 3.6),
    im: starShape(C.im, 4.2),
    tv: pentagonShape(C.tv, 4.2),
    ob: smallSquareShape(C.ob, 3.6),
    as: dotShape(C.as, 2.2),
  };
  const massLegendStyle = [
    [lgMarkers.rv, C.rv],
    [lgMarkers.tr, C.tr],
    [lgMarkers.ml, C.ml],
    [lgMarkers.im, C.im],
    [lgMarkers.tv, C.tv],
    [lgMarkers.ob, C.ob],
    [lgMarkers.as, C.as],
  ] as const;
  const radiusLegendStyle = [
    [lgMarkers.rv, C.rv],
    [lgMarkers.tr, C.tr],
    [lgMarkers.im, C.im],
    [lgMarkers.tv, C.tv],
    [lgMarkers.ob, C.ob],
  ] as const;
  const massLegendY = [215, 236, 256, 276, 296, 317, 358];
  const radiusLegendY = [82, 103, 123, 144, 164];

  return (
    <div style={{ position: 'absolute', left: 0, top: 0, width: W, height: H, background: '#fff', overflow: 'hidden' }}>
      <div style={{ position: 'absolute', left: 0, top: 0 }}>
        <ScatterChart width={L.w} height={H} margin={L.margin}>
          <XAxis
            type="number"
            dataKey="x"
            domain={massXDomain}
            allowDataOverflow
            ticks={massX}
            interval={0}
            tickSize={0}
            tickMargin={0}
            tickLine={false}
            axisLine={{ stroke: '#000' }}
            height={L.xH}
            tick={xTick(L_PH, decadeLabel(massPeriodDecades, massPeriodLabels), 7, 4)}
          />
          <YAxis
            type="number"
            dataKey="y"
            domain={massYDomain}
            allowDataOverflow
            ticks={massY}
            interval={0}
            tickSize={0}
            tickMargin={0}
            tickLine={false}
            axisLine={{ stroke: '#000' }}
            width={L.yW}
            tick={yTick(L_PW, decadeLabel(massDecades, massLabels), 7, 4, 18)}
          />
          <Scatter data={logPts(massTransits)} shape={squareShape(C.tr)} isAnimationActive={false} />
          <Scatter data={logPts(massRadialVelocity)} shape={circleShape(C.rv)} isAnimationActive={false} />
          <Scatter data={logPts(massTimingVariations)} shape={pentagonShape(C.tv)} isAnimationActive={false} />
          <Scatter data={logPts(massMicrolensing)} shape={triangleShape(C.ml)} isAnimationActive={false} />
          <Scatter data={logPts(massImaging)} shape={starShape(C.im)} isAnimationActive={false} />
          <Scatter data={logPts(massOrbitalBrightness)} shape={smallSquareShape(C.ob)} isAnimationActive={false} />
          <Scatter data={logPts(massAstrometry)} shape={dotShape(C.as)} isAnimationActive={false} />
          <ReferenceArea
            x1={massXDomain[0]}
            x2={massXDomain[1]}
            y1={massYDomain[0]}
            y2={massYDomain[1]}
            fill="none"
            fillOpacity={0}
            stroke="#000"
            strokeWidth={1.2}
            ifOverflow="visible"
          />
        </ScatterChart>
      </div>
      <div style={{ position: 'absolute', left: 620, top: 0 }}>
        <ScatterChart width={R.w} height={H} margin={R.margin}>
          <XAxis
            type="number"
            dataKey="x"
            domain={radXDomain}
            allowDataOverflow
            ticks={radX}
            interval={0}
            tickSize={0}
            tickMargin={0}
            tickLine={false}
            axisLine={{ stroke: '#000' }}
            height={R.xH}
            tick={xTick(R_PH, decadeLabel(radiusPeriodDecades, radiusPeriodLabels), 7, 4)}
          />
          <YAxis
            type="number"
            dataKey="y"
            domain={radYDomain}
            allowDataOverflow
            ticks={radY}
            interval={0}
            tickSize={0}
            tickMargin={0}
            tickLine={false}
            axisLine={{ stroke: '#000' }}
            width={R.yW}
            tick={yTick(R_PW, linearLabel(radiusValues, radiusLabels), 8, 8, 20)}
          />
          <Scatter data={semiLogPts(radiusTransits)} shape={squareShape(C.tr)} isAnimationActive={false} />
          <Scatter data={semiLogPts(radiusRadialVelocity)} shape={circleShape(C.rv)} isAnimationActive={false} />
          <Scatter data={semiLogPts(radiusTimingVariations)} shape={pentagonShape(C.tv)} isAnimationActive={false} />
          <Scatter data={semiLogPts(radiusImaging)} shape={starShape(C.im)} isAnimationActive={false} />
          <Scatter data={semiLogPts(radiusOrbitalBrightness)} shape={smallSquareShape(C.ob)} isAnimationActive={false} />
          <ReferenceArea
            x1={radXDomain[0]}
            x2={radXDomain[1]}
            y1={radYDomain[0]}
            y2={radYDomain[1]}
            fill="none"
            fillOpacity={0}
            stroke="#000"
            strokeWidth={1.2}
            ifOverflow="visible"
          />
        </ScatterChart>
      </div>

      <svg width={W} height={H} style={{ position: 'absolute', left: 0, top: 0, pointerEvents: 'none' }}>
        <g fontFamily={FONT} fill="#000">
          <text x={335} y={23} textAnchor="middle" fontSize={20} letterSpacing={1}>Mass — Period Distribution</text>
          <text x={957} y={23} textAnchor="middle" fontSize={20} letterSpacing={1}>Radius — Period Distribution</text>
          <text x={591} y={43} textAnchor="end" fontSize={9} fontWeight="bold">15 Jun 2023</text>
          <text x={591} y={53} textAnchor="end" fontSize={9} fontWeight="bold">exoplanetarchive.ipac.caltech.edu</text>
          <text x={1214} y={43} textAnchor="end" fontSize={9} fontWeight="bold">15 Jun 2023</text>
          <text x={1214} y={53} textAnchor="end" fontSize={9} fontWeight="bold">exoplanetarchive.ipac.caltech.edu</text>
          <text x={335} y={465} textAnchor="middle" fontSize={20} letterSpacing={1}>Period [days]</text>
          <text x={957} y={465} textAnchor="middle" fontSize={20} letterSpacing={1}>Period [days]</text>
          <text x={26} y={230} textAnchor="middle" dominantBaseline="central" fontSize={20} letterSpacing={0.6} transform="rotate(-90 26 230)">
            Mass [Jupiter Masses]
          </text>
          <text x={652} y={230} textAnchor="middle" dominantBaseline="central" fontSize={20} letterSpacing={0.6} transform="rotate(-90 652 230)">
            Radius [Earth Radii]
          </text>
        </g>
        {massLegend.map((t, i) => (
          <LegendRow key={t} x={406} y={massLegendY[i]} shape={massLegendStyle[i][0]} color={massLegendStyle[i][1]} text={t} />
        ))}
        <text x={413} y={337} dominantBaseline="central" fontFamily={FONT} fontSize={19} letterSpacing={0.8} fill={C.ob}>Modulation</text>
        {radiusLegend.map((t, i) => (
          <LegendRow key={t} x={1028} y={radiusLegendY[i]} shape={radiusLegendStyle[i][0]} color={radiusLegendStyle[i][1]} text={t} />
        ))}
        <text x={1035} y={184} dominantBaseline="central" fontFamily={FONT} fontSize={19} letterSpacing={0.8} fill={C.ob}>Modulation</text>
      </svg>
    </div>
  );
}
